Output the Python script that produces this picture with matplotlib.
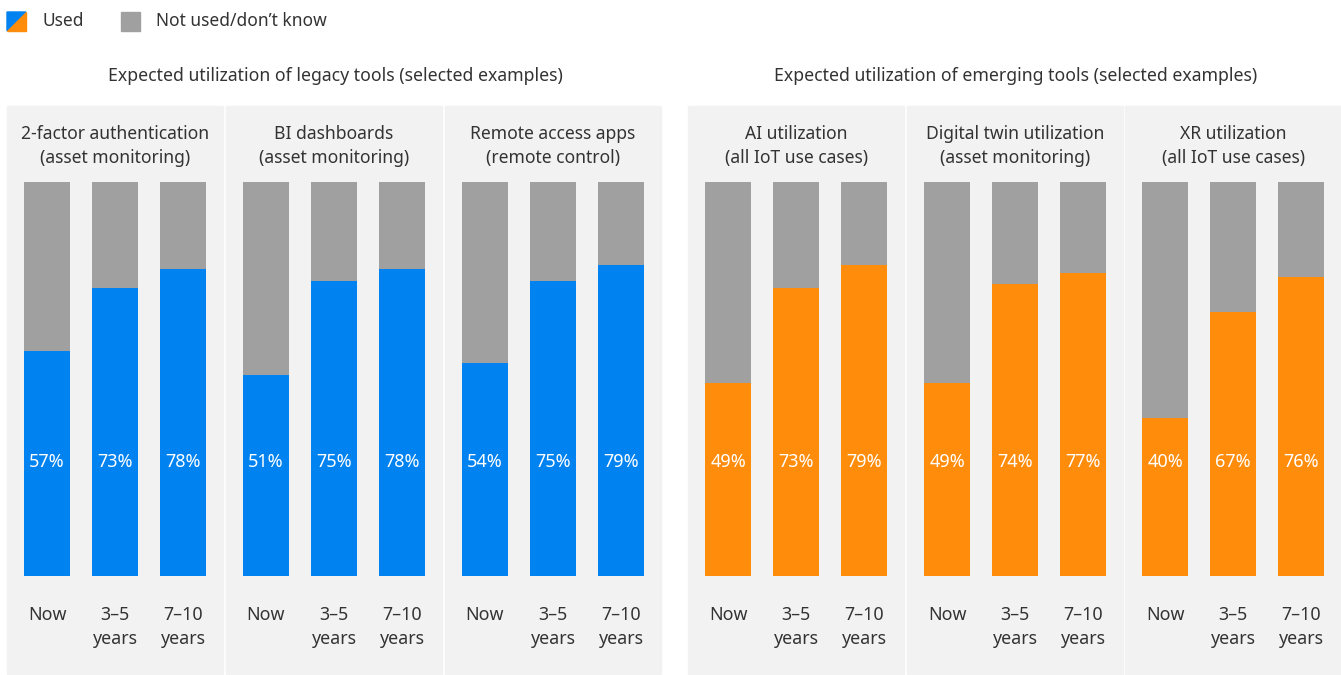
import matplotlib.pyplot as plt
from matplotlib.patches import Rectangle, Polygon

plt.rcParams['font.family'] = ['Noto Sans', 'DejaVu Sans']

# survey shares (% used), per tool, for each time horizon
horizons = ['Now', '3\u20135\nyears', '7\u201310\nyears']

legacy_tools = ['2-factor authentication\n(asset monitoring)',
                'BI dashboards\n(asset monitoring)',
                'Remote access apps\n(remote control)']
legacy_used = [[57, 73, 78],
               [51, 75, 78],
               [54, 75, 79]]

emerging_tools = ['AI utilization\n(all IoT use cases)',
                  'Digital twin utilization\n(asset monitoring)',
                  'XR utilization\n(all IoT use cases)']
emerging_used = [[49, 73, 79],
                 [49, 74, 77],
                 [40, 67, 76]]

group_titles = ['Expected utilization of legacy tools (selected examples)',
                'Expected utilization of emerging tools (selected examples)']

BLUE = '#0082F0'
ORANGE = '#FF8C0A'
GREY = '#A0A0A0'
PANEL = '#F2F2F2'
TEXT = '#333333'

W, H = 1341, 675
fig = plt.figure(figsize=(W / 100, H / 100), dpi=100)

def fx(px):
    return px / W

def fy(py):
    return 1 - py / H

# pixel layout
panel_lefts = [7, 226, 445, 688, 907, 1125]
panel_w = 216
panel_top, panel_bot = 106, 674
bar_top, bar_bot = 182, 576
step = 68          # px between bar centres
bar_w = 46 / step

tools = legacy_tools + emerging_tools
used = legacy_used + emerging_used
colors = [BLUE] * 3 + [ORANGE] * 3

for left, tool, vals, col in zip(panel_lefts, tools, used, colors):
    fig.patches.append(Rectangle((fx(left), fy(panel_bot)), fx(panel_w),
                                 fy(panel_top) - fy(panel_bot),
                                 transform=fig.transFigure, color=PANEL, zorder=-5))
    ax = fig.add_axes([fx(left), fy(bar_bot), fx(panel_w), fy(bar_top) - fy(bar_bot)])
    ax.set_zorder(2)
    ax.patch.set_alpha(0)
    half = panel_w / step / 2
    ax.set_xlim(1 - half, 1 + half)
    ax.set_ylim(0, 100)
    ax.axis('off')
    x = range(len(vals))
    not_used = [100 - v for v in vals]
    ax.bar(x, vals, width=bar_w, color=col, linewidth=0)
    ax.bar(x, not_used, bottom=vals, width=bar_w, color=GREY, linewidth=0)
    for i, v in enumerate(vals):
        ax.text(i, 29, f'{v}%', ha='center', va='center', color='white', fontsize=13)
        ax.text(i, -7.6, horizons[i], ha='center', va='top', color=TEXT,
                fontsize=12.8, linespacing=1.45, clip_on=False)
    fig.text(fx(left + panel_w / 2), fy(146), tool, ha='center', va='center',
             color=TEXT, fontsize=12.6, linespacing=1.45)

# group headings
fig.text(fx(335), fy(76), group_titles[0], ha='center', va='center', color=TEXT, fontsize=12.7)
fig.text(fx(1016), fy(76), group_titles[1], ha='center', va='center', color=TEXT, fontsize=12.7)

# legend: split swatch for "Used", grey swatch for the rest
x0, y0, s = 7, 12, 19
fig.patches.append(Polygon([(fx(x0), fy(y0)), (fx(x0 + s), fy(y0)), (fx(x0), fy(y0 + s))],
                           closed=True, transform=fig.transFigure, color=BLUE))
fig.patches.append(Polygon([(fx(x0 + s), fy(y0)), (fx(x0 + s), fy(y0 + s)), (fx(x0), fy(y0 + s))],
                           closed=True, transform=fig.transFigure, color=ORANGE))
fig.text(fx(42), fy(21), 'Used', ha='left', va='center', color=TEXT, fontsize=12.5)
fig.patches.append(Rectangle((fx(121), fy(y0 + s)), fx(s), fy(y0) - fy(y0 + s),
                             transform=fig.transFigure, color=GREY))
fig.text(fx(156), fy(21), 'Not used/don\u2019t know', ha='left', va='center',
         color=TEXT, fontsize=12.5)

fig.savefig('out.png', dpi=100, facecolor='white')
